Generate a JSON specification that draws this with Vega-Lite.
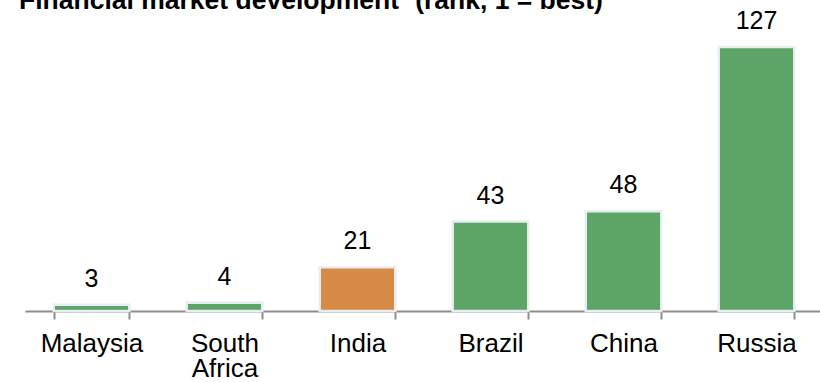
{
  "$schema": "https://vega.github.io/schema/vega-lite/v6.json",
  "autosize": "none",
  "width": 798,
  "height": 291,
  "padding": {"left": 25, "top": 20, "right": 0, "bottom": 71},
  "background": "white",
  "config": {"view": {"stroke": null}, "font": "Liberation Sans"},
  "title": {
    "text": "Financial market development¹ (rank, 1 = best)",
    "anchor": "start",
    "frame": "group",
    "font": "Liberation Sans",
    "fontSize": 26.5,
    "fontWeight": "bold",
    "color": "#000000",
    "baseline": "alphabetic",
    "offset": 0,
    "dx": -6,
    "dy": 26.5
  },
  "data": {
    "values": [
      {"country": "Malaysia", "rank": 3},
      {"country": "South Africa", "rank": 4},
      {"country": "India", "rank": 21},
      {"country": "Brazil", "rank": 43},
      {"country": "China", "rank": 48},
      {"country": "Russia", "rank": 127}
    ]
  },
  "encoding": {
    "x": {
      "field": "country",
      "type": "nominal",
      "sort": null,
      "scale": {"paddingInner": 0.432, "paddingOuter": 0.216},
      "axis": {
        "title": null,
        "labelAngle": 0,
        "labelFont": "Liberation Sans",
        "labelFontSize": 26,
        "labelColor": "#000000",
        "labelPadding": 11,
        "labelLineHeight": 25.5,
        "labelExpr": "split(datum.label, ' ')",
        "domainColor": "#8c8c8c",
        "domainWidth": 2,
        "tickColor": "#8c8c8c",
        "tickWidth": 2,
        "tickSize": 8,
        "tickBand": "extent",
        "grid": false
      }
    },
    "y": {
      "field": "rank",
      "type": "quantitative",
      "scale": {"domain": [0, 140], "nice": false, "zero": true},
      "axis": null
    }
  },
  "layer": [
    {
      "mark": {"type": "bar", "stroke": "#e6eef3", "strokeWidth": 2.5},
      "encoding": {
        "color": {
          "condition": {"test": "datum.country === 'India'", "value": "#d58b45"},
          "value": "#5ca566"
        }
      }
    },
    {
      "mark": {
        "type": "text",
        "baseline": "alphabetic",
        "align": "center",
        "dy": -18,
        "font": "Liberation Sans",
        "fontSize": 25,
        "color": "#000000"
      },
      "encoding": {
        "text": {"field": "rank", "type": "quantitative"}
      }
    }
  ]
}
